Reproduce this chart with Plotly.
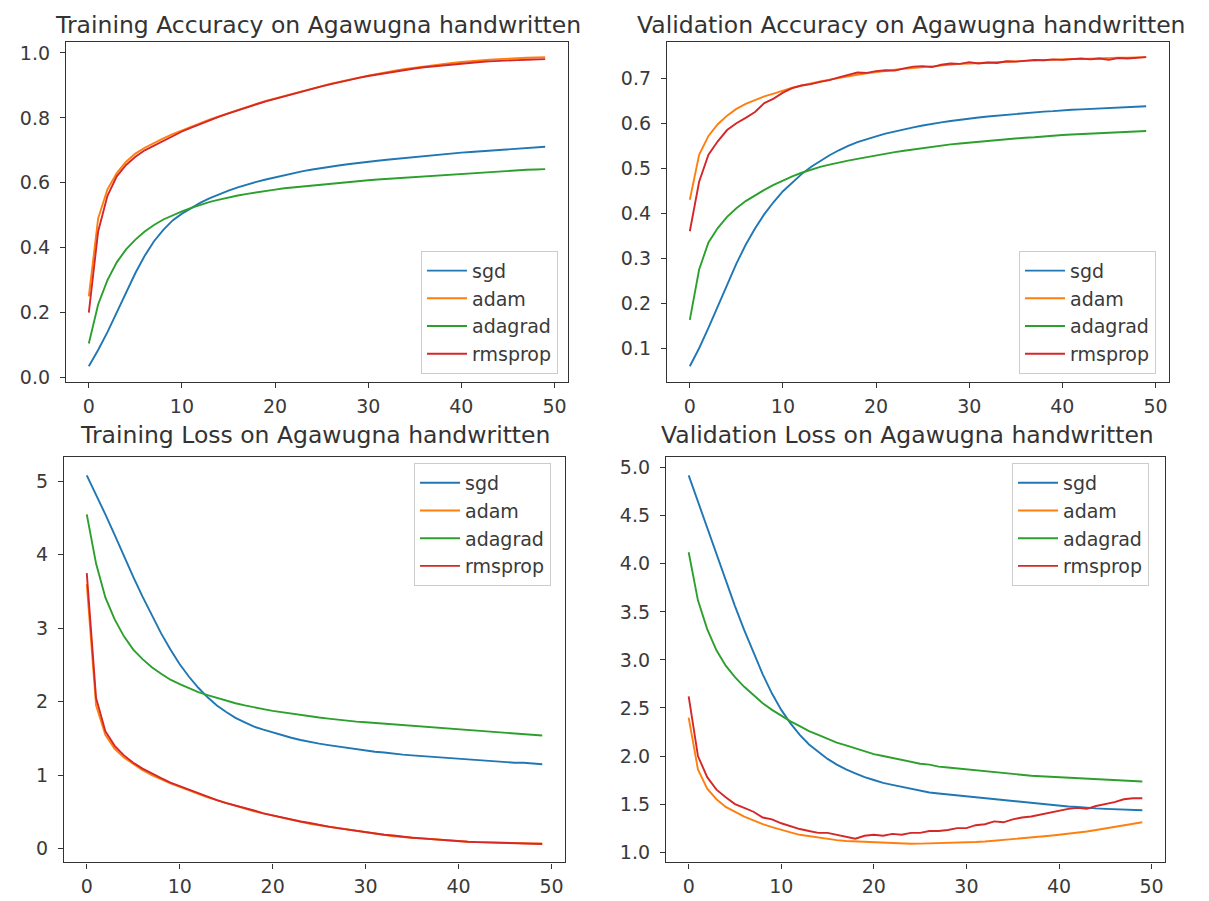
import plotly.graph_objects as go
from plotly.subplots import make_subplots

epochs = list(range(50))
optimizers = ["sgd", "adam", "adagrad", "rmsprop"]
colors = {"sgd": "#1f77b4", "adam": "#ff7f0e", "adagrad": "#2ca02c", "rmsprop": "#d62728"}

titles = [
    "Training Accuracy on Agawugna handwritten",
    "Validation Accuracy on Agawugna handwritten",
    "Training Loss on Agawugna handwritten",
    "Validation Loss on Agawugna handwritten",
]

# ---- Training accuracy ----
train_acc_sgd = [0.035, 0.085, 0.14, 0.2, 0.262, 0.322, 0.375, 0.42, 0.455, 0.484, 0.505, 0.523, 0.539, 0.553,
                 0.565, 0.576, 0.586, 0.595, 0.603, 0.61, 0.617, 0.624, 0.63, 0.636, 0.641, 0.646, 0.650, 0.654,
                 0.658, 0.662, 0.665, 0.668, 0.671, 0.674, 0.677, 0.680, 0.683, 0.686, 0.688, 0.691, 0.693,
                 0.695, 0.697, 0.699, 0.701, 0.703, 0.705, 0.707, 0.709, 0.711]
train_acc_adam = [0.25, 0.49, 0.58, 0.63, 0.665, 0.69, 0.708, 0.723, 0.737, 0.75, 0.762, 0.773, 0.784, 0.795,
                  0.805, 0.815, 0.825, 0.834, 0.843, 0.852, 0.86, 0.868, 0.876, 0.884, 0.891, 0.898, 0.905,
                  0.912, 0.918, 0.924, 0.93, 0.936, 0.941, 0.946, 0.951, 0.955, 0.959, 0.963, 0.966, 0.969,
                  0.972, 0.975, 0.977, 0.979, 0.981, 0.983, 0.984, 0.985, 0.986, 0.987]
train_acc_adagrad = [0.105, 0.225, 0.30, 0.355, 0.395, 0.425, 0.45, 0.47, 0.487, 0.50, 0.512, 0.523, 0.533,
                     0.541, 0.548, 0.555, 0.561, 0.566, 0.571, 0.575, 0.579, 0.583, 0.586, 0.589, 0.592,
                     0.595, 0.598, 0.601, 0.604, 0.606, 0.608, 0.61, 0.612, 0.614, 0.616, 0.618, 0.62, 0.622,
                     0.624, 0.626, 0.628, 0.63, 0.632, 0.634, 0.635, 0.637, 0.638, 0.64, 0.641, 0.642]
train_acc_rmsprop = [0.20, 0.45, 0.56, 0.62, 0.655, 0.68, 0.70, 0.715, 0.73, 0.745, 0.758, 0.77, 0.782, 0.793,
                     0.804, 0.814, 0.824, 0.833, 0.842, 0.851, 0.859, 0.867, 0.875, 0.883, 0.89, 0.897, 0.904,
                     0.911, 0.917, 0.923, 0.929, 0.934, 0.939, 0.944, 0.948, 0.952, 0.956, 0.959, 0.962,
                     0.965, 0.968, 0.97, 0.972, 0.974, 0.976, 0.977, 0.978, 0.979, 0.98, 0.981]

# ---- Validation accuracy ----
val_acc_sgd = [0.06, 0.1, 0.145, 0.193, 0.242, 0.288, 0.33, 0.366, 0.398, 0.425, 0.449, 0.469, 0.487, 0.503,
               0.517, 0.529, 0.540, 0.55, 0.558, 0.565, 0.571, 0.577, 0.582, 0.587, 0.591, 0.595, 0.599,
               0.602, 0.605, 0.608, 0.611, 0.613, 0.615, 0.617, 0.619, 0.621, 0.623, 0.624, 0.626, 0.627,
               0.629, 0.63, 0.631, 0.632, 0.633, 0.634, 0.635, 0.636, 0.637, 0.638]
val_acc_adam = [0.43, 0.53, 0.572, 0.598, 0.617, 0.632, 0.643, 0.652, 0.66, 0.666, 0.673, 0.679, 0.684, 0.689,
                0.693, 0.697, 0.701, 0.705, 0.708, 0.711, 0.714, 0.716, 0.719, 0.721, 0.723, 0.725, 0.727,
                0.729, 0.73, 0.732, 0.733, 0.734, 0.735, 0.736, 0.737, 0.738, 0.739, 0.74, 0.741, 0.741,
                0.742, 0.743, 0.743, 0.744, 0.745, 0.745, 0.746, 0.746, 0.747, 0.747]
val_acc_adagrad = [0.163, 0.275, 0.335, 0.367, 0.392, 0.411, 0.427, 0.44, 0.452, 0.463, 0.473, 0.482, 0.49,
                   0.497, 0.503, 0.508, 0.513, 0.517, 0.521, 0.525, 0.529, 0.533, 0.536, 0.539, 0.542, 0.545,
                   0.548, 0.551, 0.553, 0.555, 0.557, 0.559, 0.561, 0.563, 0.565, 0.566, 0.568, 0.569,
                   0.571, 0.572, 0.574, 0.575, 0.576, 0.577, 0.578, 0.579, 0.58, 0.581, 0.582, 0.583]
val_acc_rmsprop = [0.36, 0.47, 0.53, 0.56, 0.585, 0.6, 0.612, 0.625, 0.645, 0.655, 0.668, 0.678, 0.684, 0.687,
                   0.692, 0.696, 0.702, 0.708, 0.713, 0.712, 0.716, 0.718, 0.717, 0.722, 0.726, 0.727, 0.725,
                   0.73, 0.733, 0.732, 0.736, 0.733, 0.735, 0.734, 0.738, 0.737, 0.739, 0.741, 0.74, 0.742,
                   0.741, 0.743, 0.744, 0.742, 0.744, 0.741, 0.745, 0.744, 0.746, 0.747]

# ---- Training loss ----
train_loss_sgd = [5.08, 4.82, 4.55, 4.27, 3.98, 3.70, 3.43, 3.17, 2.93, 2.71, 2.51, 2.34, 2.19, 2.06, 1.95,
                  1.86, 1.78, 1.72, 1.66, 1.62, 1.58, 1.54, 1.51, 1.48, 1.45, 1.43, 1.41, 1.39, 1.37, 1.35,
                  1.34, 1.32, 1.31, 1.29, 1.28, 1.27, 1.26, 1.25, 1.24, 1.23, 1.22, 1.21, 1.2, 1.19, 1.19,
                  1.18, 1.17, 1.17, 1.16, 1.15]
train_loss_adam = [3.6, 1.95, 1.55, 1.36, 1.24, 1.15, 1.07, 1.00, 0.94, 0.89, 0.84, 0.79, 0.74, 0.70, 0.66,
                   0.62, 0.58, 0.55, 0.51, 0.48, 0.45, 0.42, 0.39, 0.37, 0.34, 0.32, 0.30, 0.28, 0.26, 0.24,
                   0.22, 0.20, 0.19, 0.17, 0.16, 0.15, 0.14, 0.13, 0.12, 0.11, 0.10, 0.095, 0.09, 0.085,
                   0.08, 0.075, 0.075, 0.07, 0.07, 0.07]
train_loss_adagrad = [4.55, 3.88, 3.42, 3.12, 2.89, 2.71, 2.58, 2.47, 2.38, 2.30, 2.24, 2.18, 2.13, 2.09,
                      2.05, 2.01, 1.98, 1.95, 1.92, 1.90, 1.875, 1.855, 1.835, 1.815, 1.80, 1.785, 1.77,
                      1.755, 1.74, 1.73, 1.72, 1.71, 1.70, 1.69, 1.68, 1.67, 1.66, 1.65, 1.64, 1.63, 1.62,
                      1.61, 1.60, 1.59, 1.58, 1.575, 1.565, 1.555, 1.55, 1.54]
train_loss_rmsprop = [3.75, 2.05, 1.60, 1.40, 1.27, 1.17, 1.09, 1.02, 0.96, 0.90, 0.85, 0.80, 0.75, 0.71,
                      0.66, 0.62, 0.59, 0.55, 0.52, 0.48, 0.45, 0.42, 0.40, 0.37, 0.35, 0.32, 0.30, 0.28,
                      0.26, 0.24, 0.22, 0.21, 0.19, 0.18, 0.16, 0.15, 0.14, 0.13, 0.12, 0.11, 0.10, 0.095,
                      0.09, 0.085, 0.08, 0.075, 0.07, 0.07, 0.065, 0.065]

# ---- Validation loss ----
val_loss_sgd = [4.92, 4.65, 4.37, 4.09, 3.82, 3.56, 3.31, 3.07, 2.85, 2.65, 2.48, 2.34, 2.22, 2.12, 2.04,
                1.97, 1.91, 1.86, 1.82, 1.78, 1.75, 1.72, 1.70, 1.68, 1.66, 1.64, 1.62, 1.61, 1.60, 1.59,
                1.58, 1.57, 1.56, 1.55, 1.54, 1.53, 1.52, 1.51, 1.50, 1.49, 1.48, 1.475, 1.47, 1.46, 1.455,
                1.45, 1.445, 1.44, 1.44, 1.435]
val_loss_adam = [2.40, 1.86, 1.66, 1.55, 1.47, 1.42, 1.37, 1.33, 1.29, 1.26, 1.23, 1.205, 1.18, 1.165, 1.15,
                 1.135, 1.125, 1.115, 1.11, 1.105, 1.1, 1.095, 1.09, 1.085, 1.087, 1.088, 1.09, 1.09, 1.092,
                 1.095, 1.1, 1.105, 1.11, 1.118, 1.125, 1.133, 1.14, 1.15, 1.16, 1.17, 1.18, 1.19, 1.2,
                 1.215, 1.23, 1.245, 1.26, 1.275, 1.29, 1.31]
val_loss_adagrad = [4.12, 3.62, 3.32, 3.10, 2.94, 2.82, 2.72, 2.63, 2.55, 2.48, 2.42, 2.36, 2.31, 2.26, 2.22,
                    2.18, 2.14, 2.11, 2.08, 2.05, 2.02, 2.0, 1.98, 1.96, 1.94, 1.92, 1.91, 1.89, 1.88, 1.87,
                    1.86, 1.85, 1.84, 1.83, 1.82, 1.81, 1.80, 1.795, 1.79, 1.785, 1.78, 1.775, 1.77, 1.765,
                    1.76, 1.755, 1.75, 1.745, 1.74, 1.735]
val_loss_rmsprop = [2.62, 2.0, 1.78, 1.65, 1.57, 1.5, 1.46, 1.42, 1.36, 1.34, 1.3, 1.27, 1.24, 1.22, 1.2, 1.2,
                    1.18, 1.16, 1.14, 1.17, 1.18, 1.17, 1.19, 1.18, 1.2, 1.2, 1.22, 1.22, 1.23, 1.25, 1.25,
                    1.28, 1.29, 1.32, 1.31, 1.34, 1.36, 1.37, 1.39, 1.41, 1.43, 1.45, 1.46, 1.45, 1.48, 1.5,
                    1.52, 1.55, 1.56, 1.56]

panels = [
    {"sgd": train_acc_sgd, "adam": train_acc_adam, "adagrad": train_acc_adagrad, "rmsprop": train_acc_rmsprop},
    {"sgd": val_acc_sgd, "adam": val_acc_adam, "adagrad": val_acc_adagrad, "rmsprop": val_acc_rmsprop},
    {"sgd": train_loss_sgd, "adam": train_loss_adam, "adagrad": train_loss_adagrad, "rmsprop": train_loss_rmsprop},
    {"sgd": val_loss_sgd, "adam": val_loss_adam, "adagrad": val_loss_adagrad, "rmsprop": val_loss_rmsprop},
]
ytick_step = [0.2, 0.1, 1, 0.5]
ytick_fmt = [".1f", ".1f", "d", ".1f"]

W, H = 1209, 901
# plot-area pixel boxes (left, right, top, bottom)
boxes = [(58, 560, 33, 376), (659, 1161, 33, 376), (56, 557, 452, 861), (658, 1157, 452, 861)]
legend_pos = [(550, 368, "bottom"), (1148, 368, "bottom"), (543, 458, "top"), (1141, 458, "top")]
# title: (centre x, top y) in pixels
title_pos = [(310, 1), (904, 1), (307, 415), (899, 415)]

fig = make_subplots(rows=2, cols=2)
font = "DejaVu Sans, Arial, sans-serif"
annotations = []
for i, data in enumerate(panels):
    r, c = i // 2 + 1, i % 2 + 1
    lg = "legend" if i == 0 else f"legend{i + 1}"
    for opt in optimizers:
        fig.add_trace(go.Scatter(x=epochs, y=data[opt], mode="lines", name=opt,
                                 line=dict(color=colors[opt], width=1.9), legend=lg,
                                 showlegend=True), row=r, col=c)
    allv = [v for opt in optimizers for v in data[opt]]
    lo, hi = min(allv), max(allv)
    pad = 0.05 * (hi - lo)
    xpad = 0.05 * (epochs[-1] - epochs[0])
    l, rr, t, b = boxes[i]
    xa = "xaxis" if i == 0 else f"xaxis{i + 1}"
    ya = "yaxis" if i == 0 else f"yaxis{i + 1}"
    axis_common = dict(showline=True, linecolor="#333333", linewidth=1.3, mirror=True,
                       ticks="outside", ticklen=5, tickwidth=1.2, tickcolor="#333333",
                       showgrid=False, zeroline=False,
                       tickfont=dict(family=font, size=19, color="#3a3a3a"))
    fig.update_layout({
        xa: dict(domain=[l / W, rr / W], range=[epochs[0] - xpad, epochs[-1] + xpad],
                 tickmode="linear", tick0=0, dtick=10, ticklabelstandoff=2, **axis_common),
        ya: dict(domain=[1 - b / H, 1 - t / H], range=[lo - pad, hi + pad],
                 tickmode="linear", tick0=0, dtick=ytick_step[i], tickformat=ytick_fmt[i],
                 ticklabelstandoff=6, **axis_common),
    })
    lx, ly, yanch = legend_pos[i]
    fig.update_layout({lg: dict(x=lx / W, y=1 - ly / H, xanchor="right", yanchor=yanch,
                                bgcolor="rgba(255,255,255,0.85)", bordercolor="#cccccc", borderwidth=1,
                                font=dict(family=font, size=19, color="#3a3a3a"),
                                tracegroupgap=0, itemwidth=40)})
    tx, ty = title_pos[i]
    annotations.append(dict(text=titles[i], x=tx / W, y=1 - ty / H,
                            xref="paper", yref="paper", xanchor="center", yanchor="top",
                            borderpad=0, showarrow=False,
                            font=dict(family=font, size=23.5, color="#333333")))

fig.update_layout(width=W, height=H, margin=dict(l=0, r=0, t=0, b=0),
                  paper_bgcolor="white", plot_bgcolor="white", annotations=annotations)
fig.write_html("out.html")
